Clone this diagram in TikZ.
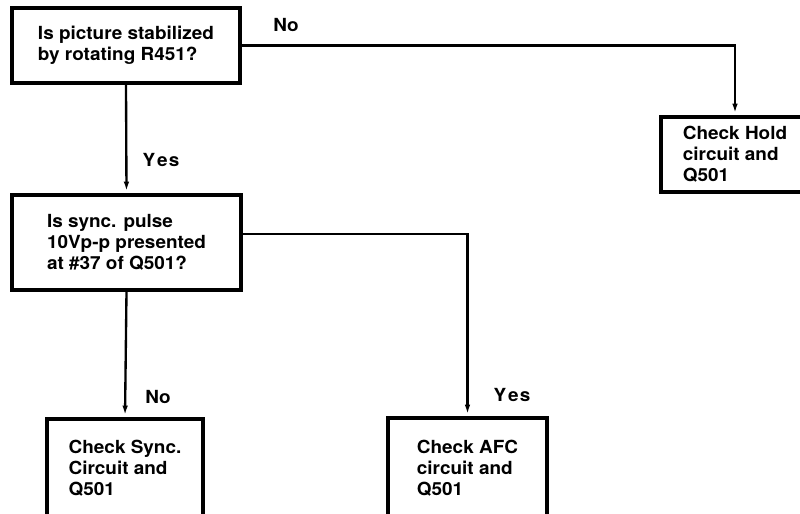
\documentclass[tikz,border=0pt]{standalone}
\usepackage{fontspec}
\setmainfont{TeX Gyre Heros}[FakeStretch=1.05]
\usetikzlibrary{arrows.meta}

\begin{document}
\begin{tikzpicture}[
    x=0.03cm, y=-0.03cm,
    box/.style={rectangle, draw, line width=2.8pt, align=left, inner sep=0pt,
        font=\fontsize{15.4pt}{18pt}\selectfont\bfseries},
    lbl/.style={font=\fontsize{15.4pt}{18pt}\selectfont\bfseries, inner sep=0pt},
    arrow/.style={-{Latex[length=10pt,width=4.5pt]}, line width=2pt},
    >=latex
]
\useasboundingbox (0,0) rectangle (800,514);
\clip (0,0) rectangle (800,514);
\fill[white] (0,0) rectangle (800,514);

% Questions
\node[box, minimum width=6.84cm, minimum height=2.25cm] (Q1) at (126,45.5)
    {Is picture stabilized\\by rotating R451?};
\node[box, minimum width=6.87cm, minimum height=2.85cm] (Q2) at (126.5,242.5)
    {Is sync. pulse\\10Vp-p presented\\at \#37 of Q501?};

% Checks
\node[box, minimum width=4.44cm, minimum height=2.25cm] (hold) at (735,154.5)
    {Check Hold\\circuit and\\Q501};
\node[box, minimum width=4.68cm, minimum height=2.97cm] (sync) at (125,468.5)
    {Check Sync.\\Circuit and\\Q501};
\node[box, minimum width=4.77cm, minimum height=3.0cm] (afc) at (467.5,468)
    {Check AFC\\circuit and\\Q501};

% Connections
\draw[arrow] (Q1.east) -| (hold.north);
\draw[arrow] (Q1.south) -- (Q2.north);
\draw[arrow] ([yshift=0.26cm]Q2.east) -| (afc.north);
\draw[arrow] (Q2.south) -- (sync.north);

% Labels
\node[lbl] (no1) at (286,25) {No};
\node[lbl] (yes1) at (161,160) {Y\kern1.5pt e\kern1pt s};
\node[lbl] (no2) at (158,397) {No};
\node[lbl] (yes2) at (512,395) {Y\kern1.5pt e\kern1pt s};

\end{tikzpicture}
\end{document}
